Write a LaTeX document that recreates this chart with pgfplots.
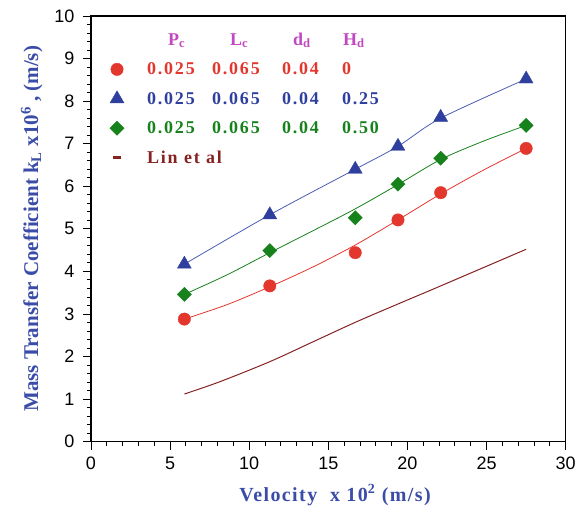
\documentclass[border=0pt]{standalone}
\usepackage{fontspec}
\setmainfont{Liberation Serif}
\setsansfont{Liberation Sans}
\usepackage{pgfplots}
\pgfplotsset{compat=1.18}
\definecolor{cred}{HTML}{E3362C}
\definecolor{cblue}{HTML}{2F3F9E}
\definecolor{cbluel}{HTML}{4A5BB5}
\definecolor{cgreen}{HTML}{17821C}
\definecolor{clin}{HTML}{862222}
\definecolor{chead}{HTML}{C048C0}
\definecolor{clab}{HTML}{3A4CA8}
\newcommand\at[2]{\rlap{\hspace*{#1}#2}}
\newcommand\lrow[4]{\hspace*{21bp}\makebox[240bp][l]{\at{0bp}{#1}\at{65bp}{#2}\at{135bp}{#3}\at{195bp}{#4}}}
\begin{document}
\begin{tikzpicture}
\begin{axis}[name=ax, scale only axis, width=474.7bp, height=425.7bp,
  xmin=0, xmax=30, ymin=0, ymax=10,
  xtick={0,5,...,30}, ytick={0,1,...,10},
  minor x tick num=4, minor y tick num=4,
  tick align=outside, xtick pos=bottom, ytick pos=left,
  major tick length=8bp, minor tick length=4bp,
  axis line style={line width=1.1bp, black},
  every tick/.style={line width=0.9bp, black},
  ticklabel style={font=\fontsize{18bp}{20bp}\sffamily},
  xticklabel style={yshift=-4bp},
  yticklabel style={xshift=-5bp},
  /pgf/number format/assume math mode=true,
  xlabel={Velocity~ x 10\textsuperscript{2} (m/s)},
  ylabel={Mass Transfer Coefficient k\textsubscript{L} x10\textsuperscript{6} , (m/s)},
  xlabel style={at={(axis description cs:0.514,-0.125)}, anchor=center,
    font=\fontsize{20bp}{22bp}\bfseries\addfontfeatures{LetterSpace=7}, text=clab},
  ylabel style={at={(axis description cs:-0.125,0.5)}, anchor=center,
    font=\fontsize{21bp}{23bp}\bfseries, text=clab},
  legend style={at={(axis description cs:0.0365,0.966)}, anchor=north west,
    draw=none, fill=none, inner sep=0pt, row sep=12bp,
    font=\fontsize{18bp}{20bp}\bfseries\addfontfeatures{LetterSpace=10}},
  legend cell align=left,
]
% fitted curves
\addplot[cred, line width=0.8bp, smooth, forget plot] coordinates {(5.9,2.88) (8.6,3.22) (11.3,3.64) (14,4.10) (16.7,4.62) (19.4,5.21) (22.1,5.82) (24.8,6.38) (27.5,6.89)};
\addplot[cbluel, line width=0.8bp, smooth, forget plot] coordinates {(5.9,4.17) (11.3,5.33) (16.7,6.40) (19.4,6.94) (22.1,7.6) (27.5,8.52)};
\addplot[cgreen, line width=0.8bp, smooth, forget plot] coordinates {(5.9,3.46) (8.6,3.92) (11.3,4.44) (14,4.95) (16.7,5.47) (19.4,6.04) (22.1,6.63) (24.8,7.06) (27.5,7.43)};
% legend header
\addlegendimage{empty legend}
\addlegendentry{\color{chead}\hspace*{21bp}\makebox[240bp][l]{\at{21bp}{P\textsubscript{c}}\at{83bp}{L\textsubscript{c}}\at{146bp}{d\textsubscript{d}}\at{196bp}{H\textsubscript{d}}}}
% data
\addplot[only marks, mark=*, mark size=6.2bp, color=cred, mark options={draw=cred, fill=cred}] coordinates {(5.9,2.88) (11.3,3.66) (16.7,4.44) (19.4,5.21) (22.1,5.85) (27.5,6.89)};
\addlegendentry{\color{cred}\lrow{0.025}{0.065}{0.04}{0}}
\addplot[only marks, mark=triangle*, mark size=8bp, color=cblue, mark options={draw=cblue, fill=cblue}] coordinates {(5.9,4.17) (11.3,5.33) (16.7,6.40) (19.4,6.94) (22.1,7.62) (27.5,8.52)};
\addlegendentry{\color{cblue}\lrow{0.025}{0.065}{0.04}{0.25}}
\addplot[only marks, mark=square*, mark size=5bp, color=cgreen, mark options={draw=cgreen, fill=cgreen, rotate=45}] coordinates {(5.9,3.46) (11.3,4.49) (16.7,5.26) (19.4,6.05) (22.1,6.66) (27.5,7.43)};
\addlegendentry{\color{cgreen}\lrow{0.025}{0.065}{0.04}{0.50}}
\addplot[clin, line width=1bp, smooth, legend image code/.code={\draw[clin, line width=3bp] (4.5bp,0) -- (12.5bp,0);}] coordinates {(5.9,1.12) (8.15,1.41) (11.3,1.88) (14.05,2.35) (16.8,2.82) (19.75,3.29) (21.85,3.62) (27.5,4.52)};
\addlegendentry{\color{clin}\hspace*{21bp}Lin et al}
\end{axis}
\pgfresetboundingbox
\path ([shift={(-91bp,-66.3bp)}]ax.south west) rectangle ([shift={(11.3bp,16bp)}]ax.north east);
\end{tikzpicture}
\end{document}
